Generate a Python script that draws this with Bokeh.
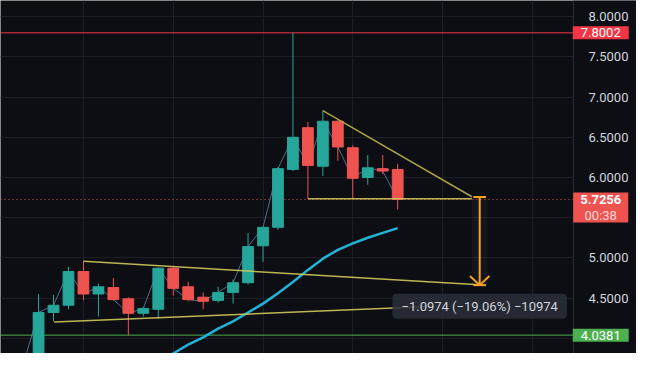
from bokeh.plotting import figure
from bokeh.models import Label, FixedTicker, Range1d, NumeralTickFormatter, LinearAxis
from bokeh.embed import file_html
from bokeh.resources import INLINE

# ---------------- data ----------------
prev_close = 3.69
opens  = [3.69, 4.32, 4.41, 4.83, 4.55, 4.63, 4.49, 4.31, 4.36, 4.87, 4.64, 4.51, 4.47,
          4.57, 4.69, 5.15, 5.38, 6.10, 6.62, 6.14, 6.70, 6.37, 6.00, 6.11, 6.10]
highs  = [4.55, 4.54, 4.89, 4.96, 4.68, 4.75, 4.51, 4.39, 4.88, 4.89, 4.70, 4.57, 4.64,
          4.73, 5.31, 5.39, 6.13, 7.8002, 6.69, 6.83, 6.71, 6.40, 6.28, 6.28, 6.17]
lows   = [3.65, 4.21, 4.36, 4.47, 4.27, 4.47, 4.0381, 4.27, 4.24, 4.53, 4.46, 4.36, 4.44,
          4.43, 4.67, 4.95, 5.35, 6.08, 5.735, 6.02, 6.21, 5.735, 5.91, 6.04, 5.60]
closes = [4.32, 4.41, 4.83, 4.55, 4.64, 4.48, 4.31, 4.37, 4.87, 4.62, 4.48, 4.46, 4.57,
          4.69, 5.14, 5.38, 6.11, 6.50, 6.15, 6.70, 6.38, 5.99, 6.12, 6.08, 5.7256]

ma_start = 8
ma_values = [3.70, 3.81, 3.92, 4.01, 4.12, 4.21, 4.32, 4.43, 4.56, 4.70, 4.85, 4.99,
             5.10, 5.18, 5.25, 5.31, 5.37]

# trend lines: (x0, y0, x1, y1)
upper_flag = [3, 4.956, 29.42, 4.665]
lower_flag = [1.04, 4.202, 26.16, 4.395]
tri_top    = [19, 6.833, 28.96, 5.760]
tri_base   = [18, 5.735, 28.96, 5.735]

measure_x = 29.48
measure_top = 5.758
measure_bottom = 4.6606
measure_text = "\u22121.0974 (\u221219.06%) \u221210974"

high_price = 7.8002
low_price = 4.0381
last_price = 5.7256
countdown = "00:38"

price_ticks = [4.5, 5.0, 6.0, 6.5, 7.0, 7.5, 8.0]
grid_prices = [4.0, 4.5, 5.0, 5.5, 6.0, 6.5, 7.0, 7.5, 8.0]
grid_bars = [3, 9, 15, 21, 27, 33]

# ---------------- layout / style ----------------
X0, SCALE_X, X1 = -2.544, 35.75, 39.96   # chart left, price-scale edge, page right
Y0, Y1 = 3.8095, 8.2024

BG = "#0d0e13"
GRID = "#1c1f27"
UP = "#26a69a"
DOWN = "#ef5350"
YEL = "#d2c85c"
YEL2 = "#b9b14c"
ORANGE = "#f7a325"
FONT = "Roboto"

idx = list(range(len(closes)))
colors = [UP if c >= o else DOWN for o, c in zip(opens, closes)]
tops = [max(o, c) for o, c in zip(opens, closes)]
bots = [min(o, c) for o, c in zip(opens, closes)]

p = figure(width=636, height=353, output_backend="svg", toolbar_location=None,
           x_axis_location=None, y_axis_location=None,
           x_range=Range1d(X0, X1), y_range=Range1d(Y0, Y1), min_border=0)
p.background_fill_color = BG
p.border_fill_color = BG
p.outline_line_color = None

p.ygrid.ticker = FixedTicker(ticks=grid_prices)
p.ygrid.grid_line_color = GRID
p.xgrid.ticker = FixedTicker(ticks=grid_bars)
p.xgrid.grid_line_color = GRID

# price-scale panel background (covers grid lines there)
p.quad(left=[SCALE_X], right=[X1], bottom=[Y0], top=[Y1], fill_color=BG, line_color=None)

# price axis
ax = LinearAxis(fixed_location=SCALE_X, ticker=FixedTicker(ticks=price_ticks),
                formatter=NumeralTickFormatter(format="0.0000"))
ax.major_label_text_color = "#d1d4dc"
ax.major_label_text_font = FONT
ax.major_label_text_font_size = "13px"
ax.major_label_standoff = 9
ax.major_tick_line_color = None
ax.minor_tick_line_color = None
ax.axis_line_color = "#262a33"
p.add_layout(ax, "right")

# horizontal level lines
p.segment(x0=[X0], x1=[SCALE_X], y0=[high_price], y1=[high_price], line_color="#f23645", line_width=1)
p.segment(x0=[X0], x1=[SCALE_X], y0=[low_price], y1=[low_price], line_color="#4caf50", line_width=1)
p.segment(x0=[X0], x1=[SCALE_X], y0=[last_price], y1=[last_price], line_color=DOWN,
          line_width=1, line_dash="1 3")

# moving average
p.line(list(range(ma_start, ma_start + len(ma_values))), ma_values,
       line_color="#22b4d6", line_width=2.5)

# close line
p.line([-1] + idx, [prev_close] + closes, line_color="#56779a", line_width=1, line_alpha=0.9)

# candles
p.segment(x0=idx, y0=lows, x1=idx, y1=highs, line_color=colors, line_width=1)
p.vbar(x=idx, width=0.72, top=tops, bottom=bots, fill_color=colors, line_color=colors)

# trend lines
for seg, col in ((upper_flag, YEL), (lower_flag, YEL), (tri_top, YEL2), (tri_base, YEL)):
    p.line([seg[0], seg[2]], [seg[1], seg[3]], line_color=col, line_width=1.5, line_alpha=0.9)

# measurement tool
p.quad(left=[measure_x - 0.52], right=[measure_x + 0.52], top=[measure_top],
       bottom=[measure_bottom], fill_color="#ffffff", fill_alpha=0.035, line_color=None)
p.segment(x0=[measure_x - 0.42, measure_x, measure_x - 0.42, measure_x - 0.65, measure_x],
          y0=[measure_top, measure_top, measure_bottom, measure_bottom + 0.113, measure_bottom],
          x1=[measure_x + 0.42, measure_x, measure_x + 0.42, measure_x, measure_x + 0.65],
          y1=[measure_top, measure_bottom, measure_bottom, measure_bottom, measure_bottom + 0.113],
          line_color=ORANGE, line_width=2)

p.add_layout(Label(x=measure_x, y=4.399, text=measure_text, text_align="center",
                   text_baseline="middle", text_color="#d1d4dc", text_font=FONT,
                   text_font_size="13px", background_fill_color="#2a2e39",
                   background_fill_alpha=0.85, border_radius=4,
                   padding=dict(left=9, right=9, top=5, bottom=5)))

# price scale labels
label_x = 37.57
p.add_layout(Label(x=label_x, y=high_price, text=f"{high_price:.4f}", text_align="center",
                   text_baseline="middle", text_color="#ffffff", text_font=FONT,
                   text_font_size="13px", background_fill_color="#f23645",
                   padding=dict(left=8, right=8, top=2, bottom=2)))
p.add_layout(Label(x=label_x, y=low_price, text=f"{low_price:.4f}", text_align="center",
                   text_baseline="middle", text_color="#ffffff", text_font=FONT,
                   text_font_size="13px", background_fill_color="#4caf50",
                   padding=dict(left=8, right=8, top=2, bottom=2)))
p.add_layout(Label(x=label_x, y=last_price, y_offset=-8, text=f"{last_price:.4f}",
                   text_align="center", text_baseline="middle", text_color="#ffffff",
                   text_font=FONT, text_font_size="13px", text_font_style="bold",
                   background_fill_color=DOWN,
                   padding=dict(left=7, right=7, top=2, bottom=19)))
p.add_layout(Label(x=label_x, y=last_price, y_offset=-16, text=countdown, text_align="center",
                   text_baseline="middle", text_color="#fbd9d9", text_font=FONT,
                   text_font_size="13px"))

open("out.html", "w").write(file_html(p, INLINE))
